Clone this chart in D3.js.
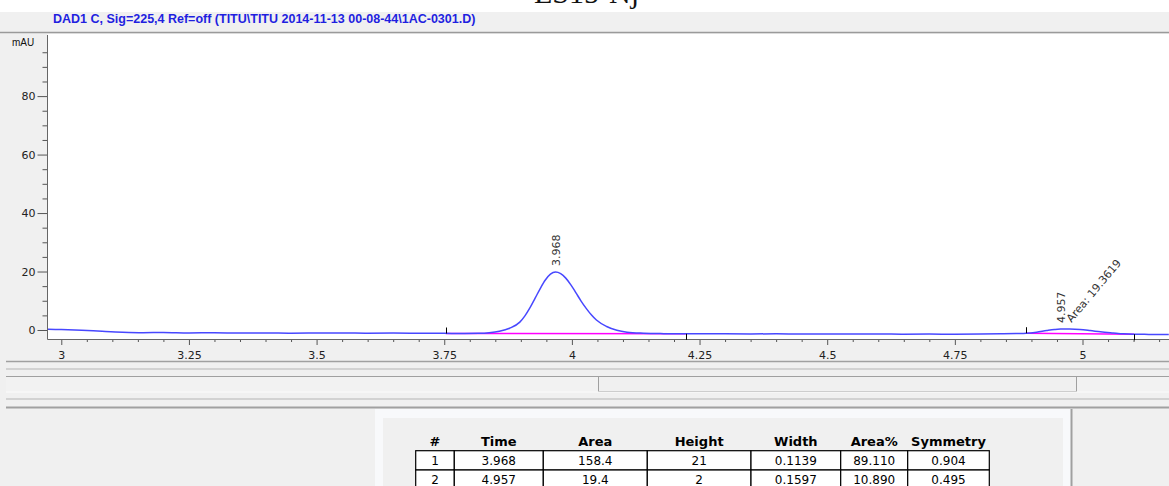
<!DOCTYPE html>
<html>
<head>
<meta charset="utf-8">
<script src="https://cdn.jsdelivr.net/npm/d3@7"></script>
<style>
  html, body { margin: 0; padding: 0; background: #ffffff; overflow: hidden; }
  svg { display: block; }
</style>
</head>
<body>
<svg id="chart" width="1169" height="486"></svg>
<script>
// ---- Data: DAD1 C chromatogram (time in min, signal in mAU) ----
const signalTime = [
  2.974, 3.00, 3.04, 3.08, 3.12, 3.16, 3.20, 3.25, 3.30, 3.35, 3.40, 3.45, 3.50,
  3.55, 3.60, 3.65, 3.70, 3.75, 3.79, 3.818, 3.838, 3.858, 3.878, 3.898, 3.908, 3.918,
  3.928, 3.938, 3.948, 3.958, 3.968, 3.978, 3.988, 3.998, 4.008, 4.018, 4.028,
  4.038, 4.048, 4.068, 4.088, 4.108, 4.14, 4.18, 4.22, 4.26, 4.30, 4.35, 4.40,
  4.45, 4.50, 4.55, 4.60, 4.65, 4.70, 4.75, 4.80, 4.84, 4.87, 4.89, 4.91, 4.93,
  4.945, 4.957, 4.975, 4.995, 5.015, 5.035, 5.06, 5.08, 5.10, 5.13, 5.169
];
const signalMAU = [
  0.25, 0.15, -0.1, -0.45, -0.75, -0.9, -0.85, -1.0, -0.95, -1.05, -1.0, -1.1, -1.05,
  -1.0, -1.1, -1.05, -1.1, -1.15, -1.2, -1.15, -0.95, -0.45, 0.6, 2.7, 4.83, 7.63,
  10.88, 14.19, 17.09, 19.09, 19.8, 19.26, 17.74, 15.45, 12.70, 9.9, 7.4,
  5.2, 3.4, 1.2, -0.1, -0.75, -1.1, -1.25, -1.3, -1.25, -1.3, -1.35, -1.3,
  -1.4, -1.35, -1.4, -1.35, -1.45, -1.4, -1.45, -1.4, -1.3, -1.2, -1.1, -0.75, -0.2,
  0.15, 0.3, 0.3, 0.15, -0.2, -0.6, -1.0, -1.3, -1.45, -1.5, -1.55
];

// Integration results
const peakNo = [1, 2];
const peakTime = [3.968, 4.957];
const peakArea = [158.4, 19.4];
const peakHeight = [21, 2];
const peakWidth = [0.1139, 0.1597];
const peakAreaPct = [89.110, 10.890];
const peakSymmetry = [0.904, 0.495];
const peakApex = [19.8, 0.3];
const peakAreaNote = [null, "Area: 19.3619"];

// Integration baselines (start/end time and level)
const baseStartTime = [3.753, 4.889];
const baseEndTime = [4.223, 5.101];
const baseStartVal = [-1.2, -1.1];
const baseEndVal = [-1.3, -1.45];

// Axis ticks
const xTickValues = [3, 3.25, 3.5, 3.75, 4, 4.25, 4.5, 4.75, 5];
const xTickLabels = ["3", "3.25", "3.5", "3.75", "4", "4.25", "4.5", "4.75", "5"];
const yTickValues = [0, 20, 40, 60, 80];
const yTickLabels = ["0", "20", "40", "60", "80"];

const tableHeaders = ["#", "Time", "Area", "Height", "Width", "Area%", "Symmetry"];
const signalTitle = "DAD1 C, Sig=225,4 Ref=off (TITU\\TITU 2014-11-13 00-08-44\\1AC-0301.D)";
const sampleName = "ES15-Nj";
const yUnit = "mAU";

// ---- Layout ----
const W = 1169, H = 486;
const plot = { left: 47.5, right: 1169, top: 35, bottom: 339 };
const PANEL = "#f0f0f0";
const EDGE = "#a0a0a0";
const SANS = "'DejaVu Sans', Verdana, sans-serif";
const ARIAL = "'Liberation Sans', Arial, sans-serif";

const svg = d3.select("#chart");

// window backgrounds
svg.append("rect").attr("x", 0).attr("y", 0).attr("width", W).attr("height", H).attr("fill", PANEL);
svg.append("rect").attr("x", 0).attr("y", 0).attr("width", W).attr("height", 12).attr("fill", "#ffffff");

// sample name from the page above (mostly clipped)
svg.append("text")
  .attr("x", 534).attr("y", 3)
  .attr("font-family", "'Liberation Serif', 'Times New Roman', serif")
  .attr("font-size", 30).attr("fill", "#111")
  .text(sampleName);
svg.append("rect").attr("x", 0).attr("y", 12).attr("width", W).attr("height", 21).attr("fill", PANEL);

// signal header
svg.append("text")
  .attr("x", 53).attr("y", 22.5)
  .attr("font-family", ARIAL).attr("font-weight", "bold")
  .attr("font-size", 12.5).attr("fill", "#1f1fe0")
  .text(signalTitle);
svg.append("line").attr("x1", 0).attr("x2", W).attr("y1", 32.5).attr("y2", 32.5)
  .attr("stroke", "#9a9a9a").attr("stroke-width", 1.6);

// plot area
svg.append("rect")
  .attr("x", plot.left).attr("y", 34)
  .attr("width", plot.right - plot.left).attr("height", plot.bottom - 34)
  .attr("fill", "#ffffff");

const x = d3.scaleLinear().domain([2.9734, 5.1694]).range([47.7, 1169]);
const y = d3.scaleLinear().domain([-3.08, 100.9]).range([plot.bottom, plot.top]);

svg.append("defs").append("clipPath").attr("id", "plotClip")
  .append("rect")
  .attr("x", plot.left).attr("y", plot.top)
  .attr("width", plot.right - plot.left).attr("height", plot.bottom - plot.top);

// ---- Axes ----
const xMinor = d3.range(3.05, 5.16, 0.05).filter(v => Math.abs(v * 4 - Math.round(v * 4)) > 1e-6);
const yMinor = d3.range(5, 101, 5).filter(v => v % 20 !== 0);

function styleAxis(g) {
  g.select(".domain").remove();
  g.selectAll(".tick line").attr("stroke", "#555").attr("stroke-width", 1);
  g.selectAll(".tick text").attr("fill", "#222").attr("font-family", SANS).attr("font-size", 11);
}

const xAxis = svg.append("g").attr("transform", `translate(0,${plot.bottom})`)
  .call(d3.axisBottom(x).tickValues(xTickValues).tickSize(6).tickPadding(6)
    .tickFormat((d, i) => xTickLabels[i]));
styleAxis(xAxis);
const xAxisMinor = svg.append("g").attr("transform", `translate(0,${plot.bottom})`)
  .call(d3.axisBottom(x).tickValues(xMinor).tickSize(3).tickFormat(""));
styleAxis(xAxisMinor);

const yAxis = svg.append("g").attr("transform", `translate(${plot.left},0)`)
  .call(d3.axisLeft(y).tickValues(yTickValues).tickSize(10).tickPadding(2)
    .tickFormat((d, i) => yTickLabels[i]));
styleAxis(yAxis);
const yAxisMinor = svg.append("g").attr("transform", `translate(${plot.left},0)`)
  .call(d3.axisLeft(y).tickValues(yMinor).tickSize(5).tickFormat(""));
styleAxis(yAxisMinor);

// axis lines
svg.append("line").attr("x1", plot.left).attr("x2", plot.left)
  .attr("y1", plot.top).attr("y2", plot.bottom + 0.5)
  .attr("stroke", "#666").attr("stroke-width", 1);
svg.append("line").attr("x1", plot.left).attr("x2", plot.right)
  .attr("y1", plot.bottom + 0.5).attr("y2", plot.bottom + 0.5)
  .attr("stroke", "#666").attr("stroke-width", 1);

svg.append("text")
  .attr("x", 12).attr("y", 46)
  .attr("font-family", ARIAL).attr("font-size", 10).attr("fill", "#111")
  .text(yUnit);

// ---- Signal, baselines and peak marks ----
const plotG = svg.append("g").attr("clip-path", "url(#plotClip)");

// integration baselines
peakNo.forEach((p, i) => {
  plotG.append("line")
    .attr("x1", x(baseStartTime[i])).attr("y1", y(baseStartVal[i]))
    .attr("x2", x(baseEndTime[i])).attr("y2", y(baseEndVal[i]))
    .attr("stroke", "#ff00ff").attr("stroke-width", 1.5);
});

const signal = signalTime.map((t, i) => [t, signalMAU[i]]);
plotG.append("path")
  .datum(signal)
  .attr("fill", "none")
  .attr("stroke", "#4848ff")
  .attr("stroke-width", 1.5)
  .attr("d", d3.line().x(d => x(d[0])).y(d => y(d[1])).curve(d3.curveMonotoneX));

// peak start / end marks
peakNo.forEach((p, i) => {
  const xs = Math.round(x(baseStartTime[i])) + 0.5;
  const ys = y(baseStartVal[i]);
  svg.append("line").attr("x1", xs).attr("x2", xs).attr("y1", ys - 6).attr("y2", ys)
    .attr("stroke", "#000").attr("stroke-width", 1);
  const xe = Math.round(x(baseEndTime[i])) + 0.5;
  const ye = y(baseEndVal[i]);
  svg.append("line").attr("x1", xe).attr("x2", xe).attr("y1", ye).attr("y2", ye + 6)
    .attr("stroke", "#000").attr("stroke-width", 1);
});

// retention time labels
peakNo.forEach((p, i) => {
  const px = x(peakTime[i]) + 4;
  const py = y(peakApex[i]) - 6;
  svg.append("text")
    .attr("transform", `translate(${px},${py}) rotate(-90)`)
    .attr("font-family", SANS).attr("font-size", 11).attr("fill", "#333")
    .text(peakTime[i].toFixed(3));
  if (peakAreaNote[i]) {
    svg.append("text")
      .attr("transform", `translate(${px + 7},${py}) rotate(-50)`)
      .attr("font-family", SANS).attr("font-size", 11).attr("fill", "#333")
      .text(peakAreaNote[i]);
  }
});

// ---- Scroll / splitter strip ----
function hline(yy, color, w, x1) {
  svg.append("line").attr("x1", x1 == null ? 6 : x1).attr("x2", W)
    .attr("y1", yy).attr("y2", yy).attr("stroke", color).attr("stroke-width", w);
}
hline(361.5, EDGE, 1.6);
hline(369, "#b4b4b4", 1);
hline(376.5, EDGE, 1);
svg.append("rect").attr("x", 6).attr("y", 377).attr("width", W - 6).attr("height", 14.5).attr("fill", "#f2f2f2");
svg.append("rect").attr("x", 598.5).attr("y", 376.5).attr("width", 478).attr("height", 15)
  .attr("fill", PANEL).attr("stroke", EDGE).attr("stroke-width", 1);
hline(392, "#fbfbfb", 1);
hline(399, "#b4b4b4", 1);
hline(407.5, EDGE, 2, 6);

// ---- Results panel ----
svg.append("rect").attr("x", 375).attr("y", 409).attr("width", 696).attr("height", 80).attr("fill", "#f8f9fb");
svg.append("rect").attr("x", 383).attr("y", 418).attr("width", 680).attr("height", 70).attr("fill", PANEL);
svg.append("line").attr("x1", 1071.5).attr("x2", 1071.5).attr("y1", 409).attr("y2", H)
  .attr("stroke", EDGE).attr("stroke-width", 2);

const colEdges = [415.7, 454.3, 543.3, 647.3, 751, 840.7, 907.7, 989.3];
const rowTop = 450.7, rowH = 19.3;
const headerBaseline = 446;

const tableG = svg.append("g");
tableHeaders.forEach((h, c) => {
  tableG.append("text")
    .attr("x", (colEdges[c] + colEdges[c + 1]) / 2).attr("y", headerBaseline)
    .attr("text-anchor", "middle")
    .attr("font-family", SANS).attr("font-weight", "bold").attr("font-size", 13)
    .attr("fill", "#000").text(h);
});

const rows = peakNo.map((p, i) => [
  String(p),
  peakTime[i].toFixed(3),
  peakArea[i].toFixed(1),
  String(peakHeight[i]),
  peakWidth[i].toFixed(4),
  peakAreaPct[i].toFixed(3),
  peakSymmetry[i].toFixed(3)
]);

rows.forEach((r, ri) => {
  const top = rowTop + ri * rowH;
  r.forEach((v, c) => {
    tableG.append("rect")
      .attr("x", colEdges[c]).attr("y", top)
      .attr("width", colEdges[c + 1] - colEdges[c]).attr("height", rowH)
      .attr("fill", "#ffffff").attr("stroke", "#000").attr("stroke-width", 1.2);
  });
});
rows.forEach((r, ri) => {
  const top = rowTop + ri * rowH;
  r.forEach((v, c) => {
    tableG.append("text")
      .attr("x", (colEdges[c] + colEdges[c + 1]) / 2).attr("y", top + rowH / 2 + 4.5)
      .attr("text-anchor", "middle")
      .attr("font-family", SANS).attr("font-size", 12)
      .attr("fill", "#000").text(v);
  });
});
</script>
</body>
</html>
